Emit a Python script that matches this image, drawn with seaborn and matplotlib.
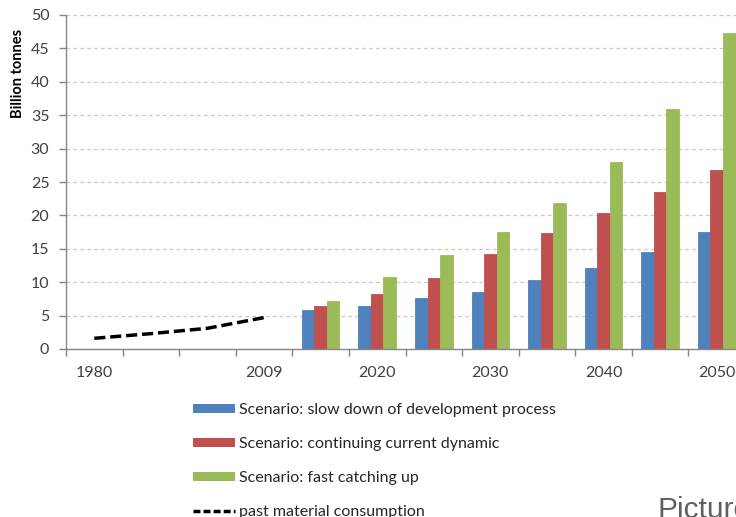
import matplotlib
matplotlib.use("Agg")
import matplotlib.pyplot as plt
import numpy as np
import pandas as pd
import seaborn as sns
from matplotlib.lines import Line2D
from matplotlib.patches import Patch

# Category axis (one slot per period); only some slots carry a label
periods = ["1980", "1990", "2000", "2009", "2015", "2020",
           "2025", "2030", "2035", "2040", "2045", "2050"]
tick_labels = ["1980", "", "", "2009", "", "2020",
               "", "2030", "", "2040", "", "2050"]

# Scenario projections (billion tonnes)
scenario_years = ["2015", "2020", "2025", "2030", "2035", "2040", "2045", "2050"]
slow_down = [5.8, 6.5, 7.7, 8.6, 10.3, 12.1, 14.5, 17.5]
continuing = [6.4, 8.2, 10.7, 14.2, 17.3, 20.4, 23.5, 26.8]
fast_catching = [7.2, 10.8, 14.0, 17.5, 21.8, 28.0, 36.0, 47.3]

# Historic consumption
past_years = ["1980", "1990", "2000", "2009"]
past_consumption = [1.6, 2.3, 3.1, 4.7]

scenario_names = ["Scenario: slow down of development process",
                  "Scenario: continuing current dynamic",
                  "Scenario: fast catching up"]
past_name = "past material consumption"
colors = ["#4F81BD", "#C0504D", "#9BBB59"]

sns.set_theme(style="white")
plt.rcParams["font.family"] = ["Lato", "DejaVu Sans"]

df = pd.DataFrame({
    "period": scenario_years * 3,
    "value": slow_down + continuing + fast_catching,
    "scenario": [scenario_names[0]] * len(scenario_years)
    + [scenario_names[1]] * len(scenario_years)
    + [scenario_names[2]] * len(scenario_years),
})

W, H = 736, 517
fig = plt.figure(figsize=(W / 100, H / 100), dpi=100)
ax = fig.add_axes([66 / W, 1 - 349 / H, (745 - 66) / W, (349 - 15) / H])

sns.barplot(data=df, x="period", y="value", hue="scenario",
            order=periods, hue_order=scenario_names, palette=colors,
            width=0.667, gap=0, saturation=1, legend=False, ax=ax)
# adjacent bars of a cluster touch each other
for bar in ax.patches:
    bar.set_edgecolor(bar.get_facecolor())
    bar.set_linewidth(0.6)

past_x = [periods.index(y) for y in past_years]
ax.plot(past_x, past_consumption, color="black", linewidth=2.5,
        dashes=(3.2, 1.4), solid_capstyle="butt", zorder=5)

grey = "#868686"
ax.set_xlim(-0.5, len(periods) - 0.5)
ax.set_ylim(0, 50)
ax.set_yticks(np.arange(0, 55, 5))
ax.yaxis.grid(True, color="#C8C8C8", linestyle=(0, (3, 2.5)), linewidth=0.9)
ax.set_axisbelow(True)
for side in ["top", "right"]:
    ax.spines[side].set_visible(False)
for side in ["left", "bottom"]:
    ax.spines[side].set_color(grey)
    ax.spines[side].set_linewidth(1.0)

# Tick marks sit between categories, labels centred on them
ax.set_xticks(np.arange(-0.5, len(periods), 1))
ax.set_xticklabels([])
ax.set_xticks(np.arange(len(periods)), minor=True)
ax.set_xticklabels(tick_labels, minor=True)
ax.tick_params(axis="x", which="major", bottom=True, length=5, width=1,
               color=grey, direction="out")
ax.tick_params(axis="x", which="minor", bottom=True, length=0, pad=12,
               labelsize=11.5, labelcolor="#404040")
ax.tick_params(axis="y", left=True, length=5, width=1, color=grey,
               direction="out", pad=7, labelsize=11.5, labelcolor="#404040")
ax.set_xlabel("")
ax.set_ylabel("")

fig.text(18 / W, 1 - 73 / H, "Billion tonnes", rotation=90, ha="center",
         va="center", fontsize=10.5, fontweight="bold", color="black")

handles = [Patch(facecolor=c, edgecolor="none") for c in colors]
handles.append(Line2D([0], [0], color="black", linewidth=2.5,
                      dashes=(2.0, 0.9)))
fig.legend(handles, scenario_names + [past_name], loc="upper left",
           bbox_to_anchor=(193 / W, 1 - 403 / H), frameon=False,
           fontsize=11.5, handlelength=2.6, handleheight=0.5,
           handletextpad=0.3, labelspacing=1.25, borderpad=0,
           borderaxespad=0, labelcolor="#262626")

fig.text(657 / W, 1 - 518 / H, "Picture", fontsize=21.5, color="#606060",
         family=["Liberation Sans", "DejaVu Sans"], ha="left", va="baseline")

fig.savefig("out.png", dpi=100)
